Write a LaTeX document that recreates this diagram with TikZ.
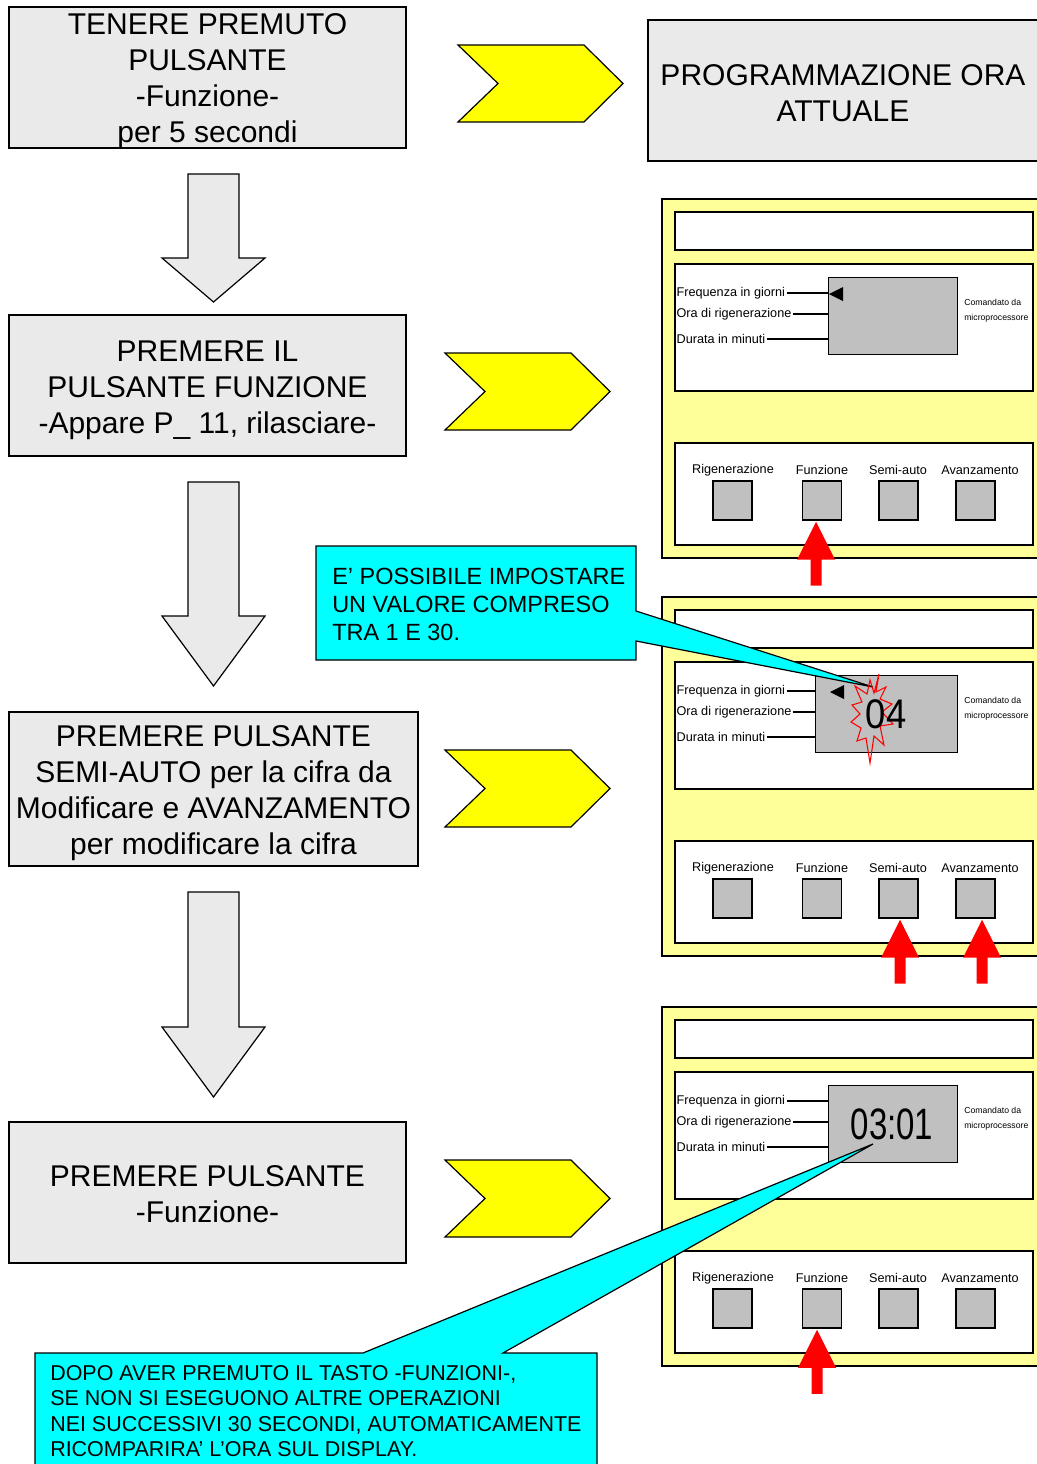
\documentclass[tikz,border=0pt]{standalone}
\usepackage{fontspec}
\setmainfont{Liberation Sans}
\usetikzlibrary{calc}
\definecolor{boxgray}{HTML}{EAEAEA}
\definecolor{panelyellow}{HTML}{FFFF99}
\definecolor{dispgray}{HTML}{C0C0C0}
\definecolor{chevyellow}{RGB}{255,255,0}
\definecolor{notecyan}{RGB}{0,255,255}
\definecolor{alertred}{RGB}{255,0,0}
\newcommand{\px}{0.75pt}

\begin{document}
\begin{tikzpicture}[x=0.75pt, y=-0.75pt,
  stepbox/.style={draw, fill=boxgray, line width=0.9pt, inner sep=0pt},
  steptext/.style={align=center, inner sep=0pt, font=\fontsize{22.5}{27}\selectfont},
  chevron/.style={draw, fill=chevyellow, line width=0.9pt, line join=miter},
  downarrow/.style={draw, fill=boxgray, line width=0.9pt},
  panel/.style={draw, fill=panelyellow, line width=1.1pt},
  inner/.style={draw, fill=white, line width=1.1pt},
  display/.style={draw, fill=dispgray, line width=1.1pt, inner sep=0pt},
  keybtn/.style={draw, fill=dispgray, line width=1.1pt, minimum size=39*\px, inner sep=0pt},
  small/.style={font=\fontsize{9.5}{11}\selectfont, inner sep=1pt},
  tiny/.style={font=\fontsize{6.5}{11.25}\selectfont, align=left, inner sep=0pt},
  callout/.style={draw, fill=notecyan, line width=0.9pt, line join=miter},
  notetext/.style={align=left, inner sep=0pt},
]
\useasboundingbox (0,0) rectangle (1037,1464);
\clip (0,0) rectangle (1037,1464);
% Steps
\node[stepbox, minimum width=397*\px, minimum height=141*\px] (hold) at (207.5,77.5) {};
\node[steptext] (holdtext) at ($(hold)+(0,4)$) {TENERE PREMUTO\\PULSANTE\\-Funzione-\\per 5 secondi};
\node[stepbox, minimum width=390*\px, minimum height=141*\px] (prog) at (843,90.5) {};
\node[steptext] (progtext) at ($(prog)+(0,2.5)$) {PROGRAMMAZIONE ORA\\ATTUALE};
\node[stepbox, minimum width=397*\px, minimum height=141*\px] (press) at (207.5,385.5) {};
\node[steptext] (presstext) at ($(press)+(0,4.5)$) {PREMERE IL\\PULSANTE FUNZIONE\\-Appare P\_ 11, rilasciare-};
\node[stepbox, minimum width=409*\px, minimum height=154*\px] (semi) at (213.5,789) {};
\node[steptext] (semitext) at ($(semi)+(0,4.5)$) {PREMERE PULSANTE\\SEMI-AUTO per la cifra da\\Modificare e AVANZAMENTO\\per modificare la cifra};
\node[stepbox, minimum width=397*\px, minimum height=141*\px] (confirm) at (207.5,1192.5) {};
\node[steptext] (confirmtext) at ($(confirm)+(0,1.5)$) {PREMERE PULSANTE\\-Funzione-};
% Down arrows
\foreach \top/\neck/\tip in {174/258/302, 482/616/686, 892/1027/1097}
  \draw[downarrow] (188,\top) -- (239,\top) -- (239,\neck) -- (265,\neck) -- (213.5,\tip) -- (162,\neck) -- (188,\neck) -- cycle;
% Chevrons
\foreach \l/\t in {458/45, 445/353, 445/750, 445/1160}
  \draw[chevron] (\l,\t) -- ++(126,0) -- ++(39,38.5) -- ++(-39,38.5) -- ++(-126,0) -- ++(40,-38.5) -- cycle;
% Control panels
\foreach \dy/\dl [count=\i] in {0/828, 398/815, 808/828} {
  \draw[panel] (662,199+\dy) rectangle (1060,558+\dy);
  \draw[inner] (675,212+\dy) rectangle (1033,250+\dy);
  \draw[inner] (675,264+\dy) rectangle (1033,391+\dy);
  \node[display, anchor=north west, minimum width=(957-\dl)*\px, minimum height=77*\px] (disp\i) at (\dl,277+\dy) {};
  \node[small, anchor=west] (freq\i) at (675,293+\dy) {Frequenza in giorni};
  \node[small, anchor=west] (ora\i) at (675,314+\dy) {Ora di rigenerazione};
  \node[small, anchor=west] (dur\i) at (675,339+\dy) {Durata in minuti};
  \draw[line width=0.9pt] (freq\i.east) -- (freq\i.east -| disp\i.west);
  \draw[line width=0.9pt] (ora\i.east) -- (ora\i.east -| disp\i.west);
  \draw[line width=0.9pt] (dur\i.east) -- (dur\i.east -| disp\i.west);
  \node[tiny, anchor=west] (cmd\i) at (964,311+\dy) {Comandato da\\microprocessore};
  \draw[inner] (675,443+\dy) rectangle (1033,545+\dy);
  \foreach \x/\lx/\name/\lbl in {732.5/733/rig/Rigenerazione, 822/822/fun/Funzione, 898.5/898/sem/Semi-auto, 975.5/980/avz/Avanzamento} {
    \node[keybtn] (\name\i) at (\x,500.5+\dy) {};
    \node[small] (\name lbl\i) at (\lx,470+\dy) {\lbl};
  }
}
% Cursor marks
\fill (829,294) -- (843,287) -- (843,301) -- cycle;
\fill (830,692) -- (844,685) -- (844,699) -- cycle;
% Red arrows
\foreach \b/\dx in {fun1/-6, sem2/1.5, avz2/6.5, fun3/-5}
  \fill[alertred] ([xshift=\dx*\px, yshift=-1*\px]\b.south) -- ++(19,38) -- ++(-13.5,0) -- ++(0,26) -- ++(-11,0) -- ++(0,-26) -- ++(-13.5,0) -- cycle;
% Callouts
\coordinate (tip1) at (873,687);
\coordinate (tip2) at (873,1144);
\draw[callout] (316,546) -- (636,546) -- (636,611) -- (tip1) -- (636,641) -- (636,660) -- (316,660) -- cycle;
\node[notetext, anchor=west, font=\fontsize{17.6}{21}\selectfont] (note1) at (332,604) {E’ POSSIBILE IMPOSTARE\\UN VALORE COMPRESO\\TRA 1 E 30.};
\draw[callout] (35,1353) -- (363,1353) -- (tip2) -- (503,1353) -- (597,1353) -- (597,1490) -- (35,1490) -- cycle;
\node[notetext, anchor=west, font=\fontsize{16.1}{19}\selectfont] (note2) at (50,1411) {DOPO AVER PREMUTO IL TASTO -FUNZIONI-,\\SE NON SI ESEGUONO ALTRE OPERAZIONI\\NEI SUCCESSIVI 30 SECONDI, AUTOMATICAMENTE\\RICOMPARIRA’ L’ORA SUL DISPLAY.};
% Flashing digits
\draw[alertred, line width=0.8pt, line join=miter] (879,674) -- (876,692) -- (886,687) -- (880,699) -- (892,704) -- (882,712) -- (893,724) -- (880,726) -- (884,745) -- (874,736) -- (870,763) -- (866,738) -- (857,741) -- (861,728) -- (851,722) -- (860,714) -- (852,705) -- (862,702) -- (855,686) -- (867,694) -- (870,680) -- (874,693) -- cycle;
\node[inner sep=0pt, font=\fontsize{31}{31}\selectfont] (value2) at (886,714) {\scalebox{0.88}[1]{04}};
\node[inner sep=0pt, font=\fontsize{33}{33}\selectfont] (value3) at (892,1124) {\scalebox{0.75}[1]{03:01}};
\end{tikzpicture}
\end{document}
